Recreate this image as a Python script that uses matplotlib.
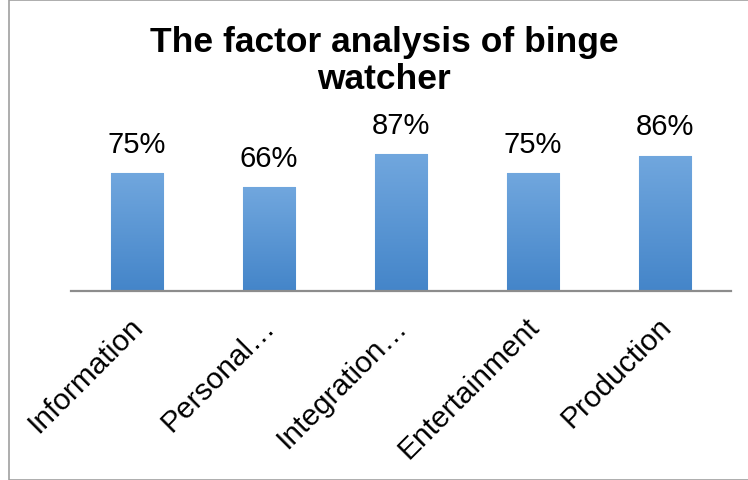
import numpy as np
import matplotlib.pyplot as plt
import matplotlib.transforms as mtransforms
from matplotlib.patches import Rectangle

categories = ["Information", "Personal…", "Integration…", "Entertainment", "Production"]
values = [0.75, 0.66, 0.87, 0.75, 0.86]
value_labels = ["75%", "66%", "87%", "75%", "86%"]

plt.rcParams['font.family'] = ['Liberation Sans', 'DejaVu Sans']

W, H = 748, 481
fig = plt.figure(figsize=(W / 100, H / 100), dpi=100)

# outer frame
fig.patches.append(Rectangle((9 / W, 0.5 / H), 1 - 9 / W + 0.01, 1 - 1.5 / H,
                             transform=fig.transFigure, fill=False,
                             edgecolor='#a0a0a0', linewidth=1.2))

ax = fig.add_axes([71 / W, 189 / H, 660 / W, 157.4 / H])
x = np.arange(len(categories))
bars = ax.bar(x, values, width=0.4, color='#5b9bd5', edgecolor='#8ab8e6', linewidth=0.8)

# vertical gradient fill for the bars
grad = np.linspace(0, 1, 256).reshape(-1, 1)
cmap = plt.matplotlib.colors.LinearSegmentedColormap.from_list('bar', ['#4485c9', '#71a7de'])
for b in bars:
    bx, by = b.get_x(), b.get_y()
    im = ax.imshow(grad, cmap=cmap, origin='lower', aspect='auto',
                   extent=(bx, bx + b.get_width(), by, by + b.get_height()), zorder=2)
    im.set_clip_path(b)

for xi, v, lab in zip(x, values, value_labels):
    ax.annotate(lab, (xi, v), xytext=(0, 11), textcoords='offset points',
                ha='center', va='bottom', fontsize=21)

ax.set_xlim(-0.5, len(categories) - 0.5)
ax.set_ylim(0, 1)
ax.set_yticks([])
ax.set_xticks(x)
ax.set_xticklabels(categories, rotation=45, ha='right', rotation_mode='anchor', fontsize=21.5)
ax.tick_params(axis='x', length=0, pad=12)
shift = mtransforms.ScaledTranslation(-8 / 100, -4 / 100, fig.dpi_scale_trans)
for t in ax.get_xticklabels():
    t.set_transform(t.get_transform() + shift)
for s in ['top', 'right', 'left']:
    ax.spines[s].set_visible(False)
ax.spines['bottom'].set_color('#8c8c8c')
ax.spines['bottom'].set_linewidth(1.6)
ax.set_zorder(1)

fig.text(384 / W, 1 - 26 / H, "The factor analysis of binge\nwatcher", ha='center', va='top',
         fontsize=25.5, fontweight='bold', linespacing=1.15)

fig.savefig('out.png', dpi=100)
